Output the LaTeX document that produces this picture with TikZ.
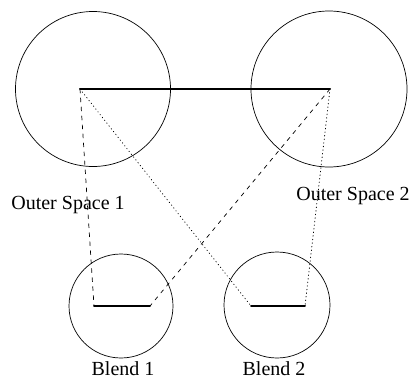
\documentclass[tikz,border=0pt]{standalone}
\usepackage{fontspec}
\setmainfont{Liberation Serif}
\usepackage{tikz}

\begin{document}
\begin{tikzpicture}[x=1pt,y=-1pt,line cap=round,
  font=\fontsize{20}{24}\selectfont,
  space/.style={draw,circle,line width=0.7pt,inner sep=0pt,minimum size=#1},
  spacename/.style={inner sep=0pt},
  link/.style={line width=2pt},
  dashlink/.style={line width=0.7pt,dash pattern=on 4pt off 5pt},
  dotlink/.style={line width=0.8pt,dash pattern=on 0.6pt off 3pt}]
\useasboundingbox (0,0) rectangle (412,381);
\node[space=155pt] (os1) at (93,89) {};
\node[space=156pt] (os2) at (329,89) {};
\node[space=104pt] (bl1) at (121,306) {};
\node[space=106pt] (bl2) at (277,305) {};
\coordinate (a1) at (80,89);
\coordinate (a2) at (330,89);
\coordinate (b1) at (94,306);
\coordinate (c1) at (150,306);
\coordinate (b2) at (251,306);
\coordinate (c2) at (305,306);
\draw[link] (a1) -- (a2);
\draw[link] (b1) -- (c1);
\draw[link] (b2) -- (c2);
\draw[dashlink] (a1) -- (b1);
\draw[dashlink] (a2) -- (c1);
\draw[dotlink] (a1) -- (b2);
\draw[dotlink] (a2) -- (c2);
\node[spacename] (lab1) at (68,205) {Outer Space 1};
\node[spacename] (lab2) at (353,196) {Outer Space 2};
\node[spacename] (lab3) at (123,369) {Blend 1};
\node[spacename] (lab4) at (274,369) {Blend 2};
\end{tikzpicture}
\end{document}
